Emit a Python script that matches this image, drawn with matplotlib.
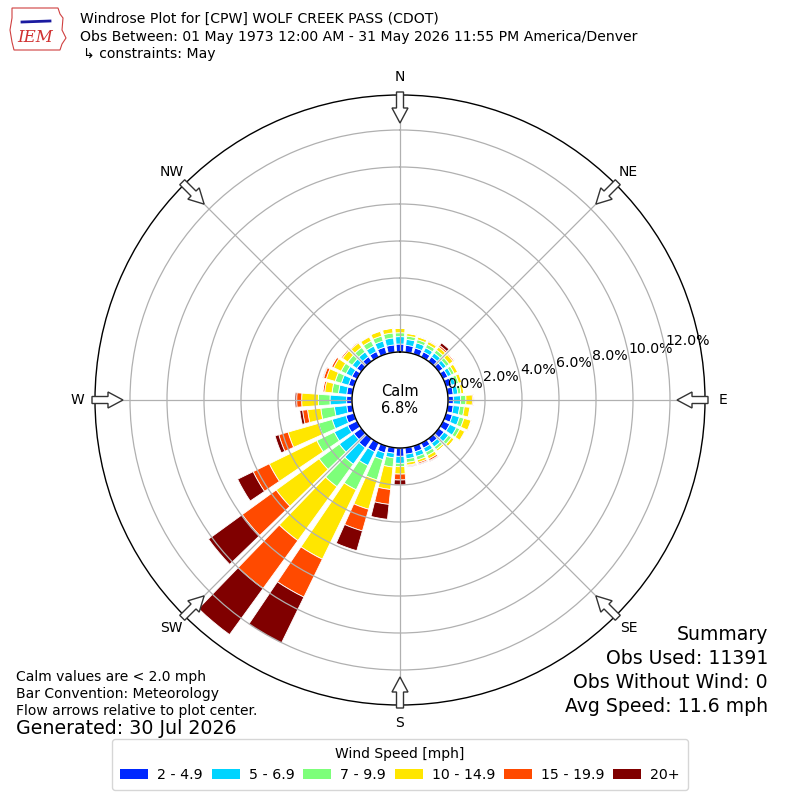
import numpy as np
import matplotlib
matplotlib.use("Agg")
import matplotlib.pyplot as plt
from matplotlib.patches import Patch, Polygon

# ---------------- data ----------------
directions = list(range(0, 360, 10))  # degrees, direction wind is from
speed_labels = ["2 - 4.9", "5 - 6.9", "7 - 9.9", "10 - 14.9", "15 - 19.9", "20+"]
speed_colors = ["#0028ff", "#00d4ff", "#7dff7a", "#ffe600", "#ff4a00", "#800000"]

# cumulative frequency (%) at the top of each speed bin, per direction
top_2_49 = [0.43, 0.38, 0.33, 0.30, 0.30, 0.28, 0.28, 0.30, 0.30,
            0.29, 0.30, 0.35, 0.40, 0.35, 0.30, 0.30, 0.32, 0.35,
            0.45, 0.30, 0.38, 0.52, 0.60, 0.49, 0.55, 0.45, 0.30,
            0.29, 0.30, 0.30, 0.30, 0.30, 0.30, 0.32, 0.38, 0.40]
top_5_69 = [0.83, 0.70, 0.62, 0.55, 0.55, 0.50, 0.50, 0.52, 0.55,
            0.68, 0.65, 0.75, 0.80, 0.65, 0.55, 0.55, 0.58, 0.60,
            0.83, 0.55, 0.76, 1.35, 1.70, 1.46, 1.36, 1.22, 0.97,
            1.19, 0.75, 0.70, 0.65, 0.60, 0.62, 0.65, 0.72, 0.78]
top_7_99 = [1.04, 0.88, 0.80, 0.75, 0.75, 0.70, 0.67, 0.70, 0.72,
            0.97, 0.90, 1.00, 1.00, 0.85, 0.72, 0.75, 0.78, 0.80,
            1.01, 1.05, 1.90, 2.81, 3.20, 2.81, 2.41, 1.99, 1.71,
            1.82, 1.10, 1.05, 0.95, 0.90, 0.92, 0.95, 1.00, 1.05]
top_10_149 = [1.27, 1.02, 0.95, 0.92, 0.95, 0.95, 0.87, 0.88, 0.87,
              1.32, 1.20, 1.40, 1.30, 1.02, 0.83, 0.95, 0.92, 0.95,
              1.41, 2.27, 3.55, 6.98, 6.80, 5.68, 5.27, 3.70, 2.43,
              2.72, 1.50, 1.55, 1.40, 1.25, 1.22, 1.20, 1.27, 1.30]
top_15_199 = [1.28, 1.04, 0.98, 0.97, 1.05, 1.02, 0.91, 0.91, 0.90,
              1.40, 1.24, 1.44, 1.34, 1.04, 0.85, 1.05, 1.00, 1.00,
              1.73, 3.08, 4.77, 9.26, 10.00, 7.95, 6.24, 4.22, 2.70,
              2.99, 1.60, 1.70, 1.52, 1.33, 1.28, 1.24, 1.30, 1.32]
top_20p = [1.28, 1.05, 1.00, 1.00, 1.22, 1.05, 0.92, 0.92, 0.90,
           1.41, 1.25, 1.45, 1.35, 1.05, 0.85, 1.10, 1.05, 1.05,
           2.00, 3.89, 5.88, 12.03, 13.08, 10.20, 7.17, 4.43, 2.85,
           3.08, 1.62, 1.75, 1.55, 1.35, 1.30, 1.25, 1.30, 1.32]

calm_pct = 6.8
radial_ticks = [0, 2, 4, 6, 8, 10, 12]
compass_names = ["N", "NE", "E", "SE", "S", "SW", "W", "NW"]
compass_angles = [0, 45, 90, 135, 180, 225, 270, 315]

# ---------------- figure ----------------
W = H = 800
fig = plt.figure(figsize=(8, 8), dpi=100)
fig.patch.set_facecolor("white")

cx, cy = 400, 400          # plot centre (pixels, from top-left)
R_out = 305                # outer radius px
R_hole = 48                # calm circle radius px
px_per_pct = 18.5
rmax = (R_out - R_hole) / px_per_pct
rorigin = -R_hole / px_per_pct

ax = fig.add_axes([(cx - R_out) / W, (H - cy - R_out) / H, 2 * R_out / W, 2 * R_out / H],
                  projection="polar")
ax.set_theta_zero_location("N")
ax.set_theta_direction(-1)
ax.set_ylim(0, rmax)
ax.set_rorigin(rorigin)

theta = np.deg2rad(directions)
width = np.deg2rad(10) * 0.8
tops = [top_2_49, top_5_69, top_7_99, top_10_149, top_15_199, top_20p]
prev = np.zeros(len(directions))
for top, col in zip(tops, speed_colors):
    top = np.array(top)
    ax.bar(theta, top - prev, width=width, bottom=prev, color=col,
           edgecolor="white", linewidth=0.6, zorder=1)
    prev = top

ax.set_xticks(np.deg2rad(compass_angles))
ax.set_xticklabels([])
ax.set_yticks(radial_ticks)
ax.set_yticklabels([f"{v:.1f}%" for v in radial_ticks], fontsize=10.2)
ax.set_rlabel_position(79)
ax.grid(True, color="#b0b0b0", linewidth=0.9)
for sp in ax.spines.values():
    sp.set_color("black")
    sp.set_linewidth(1.0)

# compass labels
for name, ang in zip(compass_names, compass_angles):
    r_lab = 323 / px_per_pct + rorigin
    ax.text(np.deg2rad(ang), r_lab, name, ha="center", va="center",
            fontsize=10, clip_on=False)

# flow arrows (pixel geometry, y up)
def arrow_poly(ang):
    a = np.deg2rad(ang)
    u = np.array([np.sin(a), np.cos(a)])
    v = np.array([np.cos(a), -np.sin(a)])
    c = np.array([cx, H - cy])
    r_t, r_h, lh, ws, wh = 308, 277, 15, 3.5, 8
    pts = [c + u * r_t + v * ws, c + u * (r_h + lh) + v * ws, c + u * (r_h + lh) + v * wh,
           c + u * r_h, c + u * (r_h + lh) - v * wh, c + u * (r_h + lh) - v * ws,
           c + u * r_t - v * ws]
    return np.array(pts) / np.array([W, H])

for ang in compass_angles:
    fig.patches.append(Polygon(arrow_poly(ang), closed=True, facecolor="white",
                               edgecolor="#333333", linewidth=1.0,
                               transform=fig.transFigure, figure=fig, zorder=5))

# calm text
ax.text(0, rorigin, f"Calm\n{calm_pct:.1f}%", ha="center", va="center",
        fontsize=10.5, zorder=6)

# ---------------- texts ----------------
def fy(y):
    return 1 - y / H

fig.text(80 / W, fy(19), "Windrose Plot for [CPW] WOLF CREEK PASS (CDOT)", fontsize=10.1, va="center")
fig.text(80 / W, fy(37), "Obs Between: 01 May 1973 12:00 AM - 31 May 2026 11:55 PM America/Denver",
         fontsize=10.1, va="center")
fig.text(83 / W, fy(54), "\u21b3 constraints: May", fontsize=10.1, va="center")

# IEM logo (simplified)
logo = np.array([[12, 8], [58, 8], [60, 14], [63, 18], [62, 30], [66, 38], [62, 44],
                 [60, 50], [14, 50], [12, 42], [10, 30], [12, 18]])
logo_f = np.column_stack([logo[:, 0] / W, 1 - logo[:, 1] / H])
fig.patches.append(Polygon(logo_f, closed=True, facecolor="white", edgecolor="#d04040",
                           linewidth=0.8, transform=fig.transFigure, figure=fig))
fig.lines.append(plt.Line2D([22 / W, 50 / W], [fy(22), fy(21)], color="#1a1aa0",
                            linewidth=2, transform=fig.transFigure, figure=fig))
fig.text(35 / W, fy(38), "IEM", fontsize=12, color="#d03030", family="DejaVu Serif",
         style="italic", ha="center", va="center")

summary = ["Summary", "Obs Used: 11391", "Obs Without Wind: 0", "Avg Speed: 11.6 mph"]
for s, y in zip(summary, [635, 659, 682, 706]):
    fig.text(768 / W, fy(y), s, fontsize=13.6, ha="right", va="center")

notes = ["Calm values are < 2.0 mph", "Bar Convention: Meteorology",
         "Flow arrows relative to plot center."]
for s, y in zip(notes, [677, 694, 711]):
    fig.text(16 / W, fy(y), s, fontsize=10.0, ha="left", va="center")
fig.text(16 / W, fy(729), "Generated: 30 Jul 2026", fontsize=13.7, ha="left", va="center")

handles = [Patch(facecolor=c, edgecolor="none", label=l) for c, l in zip(speed_colors, speed_labels)]
leg = fig.legend(handles=handles, loc="lower center", bbox_to_anchor=(0.5, 10 / H), ncol=6,
                 title="Wind Speed [mph]", fontsize=10.2, title_fontsize=10,
                 handlelength=2.0, handleheight=0.75, handletextpad=0.63,
                 columnspacing=0.6, frameon=True, borderpad=0.55, borderaxespad=0)
leg.get_frame().set_edgecolor("#cccccc")

fig.savefig("out.png", dpi=100)
